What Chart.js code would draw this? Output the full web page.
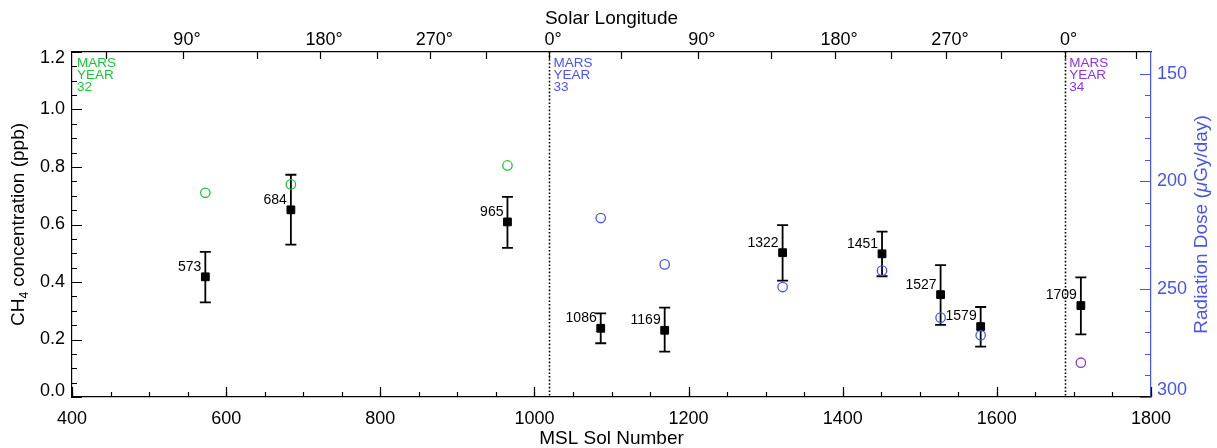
<!DOCTYPE html>
<html>
<head>
<meta charset="utf-8">
<script src="https://cdn.jsdelivr.net/npm/chart.js@4.4.0/dist/chart.umd.min.js"></script>
<style>
  html, body { margin: 0; padding: 0; background: #fff; }
  #wrap { width: 1217px; height: 448px; }
</style>
</head>
<body>
<div id="wrap"><canvas id="ch4Chart" width="1217" height="448"></canvas></div>
<script>
// methane measurements (left axis)
var sols = [573, 684, 965, 1086, 1169, 1322, 1451, 1527, 1579, 1709];
var ch4 = [0.418, 0.651, 0.609, 0.239, 0.232, 0.502, 0.498, 0.356, 0.245, 0.318];
var ch4Low = [0.329, 0.530, 0.519, 0.187, 0.158, 0.405, 0.420, 0.251, 0.175, 0.218];
var ch4High = [0.505, 0.773, 0.696, 0.291, 0.311, 0.598, 0.575, 0.459, 0.313, 0.416];

// radiation dose (right axis), one list per mars year
var doseSolsMY32 = [573, 684, 965];
var doseMY32 = [205.3, 201.4, 192.6];
var doseSolsMY33 = [1086, 1169, 1322, 1451, 1527, 1579];
var doseMY33 = [217.0, 238.5, 249.0, 241.4, 263.2, 271.4];
var doseSolsMY34 = [1709];
var doseMY34 = [284.1];

// solar longitude axis (sol where each Ls is reached)
var lsTickSols = [544, 722, 865, 1019, 1212, 1390, 1534, 1688];
var lsTickLabels = ['90°', '180°', '270°', '0°', '90°', '180°', '270°', '0°'];
var lsMinorSols = [444, 640, 796, 937, 1112, 1307, 1463, 1605, 1780];

var yearStartSols = [1019, 1688];
var yearLabelSols = [400, 1019, 1688];
var yearNames = ['32', '33', '34'];

var FONT = '"Liberation Sans", Arial, Helvetica, sans-serif';
var BLUE = '#4a55e4';
var GREEN = '#1fc23c';
var PURPLE = '#8b36d6';
var yearColors = [GREEN, BLUE, PURPLE];

function pts(xs, ys) {
    return xs.map(function(x, i) { return {x: x, y: ys[i]}; });
}

function stepValues(min, max, step) {
    var out = [];
    for (var v = Math.ceil(min / step - 1e-9) * step; v <= max + 1e-9; v += step) {
        out.push(+v.toFixed(6));
    }
    return out;
}

function drawTicks(ctx, scale, values, len, side, color) {
    var a = scale.chart.chartArea;
    ctx.save();
    ctx.strokeStyle = color;
    ctx.lineWidth = 1.2;
    ctx.beginPath();
    values.forEach(function(v) {
        var p = Math.round(scale.getPixelForValue(v)) + 0.5;
        if (side === 'bottom') { ctx.moveTo(p, a.bottom); ctx.lineTo(p, a.bottom - len); }
        if (side === 'top') { ctx.moveTo(p, a.top); ctx.lineTo(p, a.top + len); }
        if (side === 'left') { ctx.moveTo(a.left, p); ctx.lineTo(a.left + len, p); }
        if (side === 'right') { ctx.moveTo(a.right, p); ctx.lineTo(a.right - len, p); }
    });
    ctx.stroke();
    ctx.restore();
}

// keep the end labels inside the axis range, like the original plot does
function nudgeLabel(scale, value, dy) {
    var items = scale.getLabelItems(scale.chart.chartArea);
    scale.ticks.forEach(function(t, i) {
        if (Math.abs(t.value - value) < 1e-6 && items[i] && !items[i]._nudged) {
            items[i].options.translation[1] += dy;
            items[i]._nudged = true;
        }
    });
}

var edgeLabels = {
    id: 'edgeLabels',
    beforeDraw: function(chart) {
        nudgeLabel(chart.scales.y, 1.2, 6.5);
        nudgeLabel(chart.scales.y, 0, -6);
        nudgeLabel(chart.scales.y2, 300, -6.5);
    }
};

var decor = {
    id: 'decor',
    beforeDatasetsDraw: function(chart) {
        var ctx = chart.ctx, a = chart.chartArea;
        var xs = chart.scales.x, ys = chart.scales.y;
        // dotted lines at start of each mars year
        ctx.save();
        ctx.strokeStyle = '#000';
        ctx.lineWidth = 1.6;
        ctx.setLineDash([1.6, 2]);
        yearStartSols.forEach(function(s) {
            var px = Math.round(xs.getPixelForValue(s)) + 0.5;
            ctx.beginPath();
            ctx.moveTo(px, a.top);
            ctx.lineTo(px, a.bottom);
            ctx.stroke();
        });
        ctx.restore();
        // error bars
        ctx.save();
        ctx.strokeStyle = '#000';
        ctx.lineWidth = 1.8;
        sols.forEach(function(s, i) {
            var px = xs.getPixelForValue(s);
            var lo = ys.getPixelForValue(ch4Low[i]);
            var hi = ys.getPixelForValue(ch4High[i]);
            ctx.beginPath();
            ctx.moveTo(px, lo); ctx.lineTo(px, hi);
            ctx.moveTo(px - 5.5, lo); ctx.lineTo(px + 5.5, lo);
            ctx.moveTo(px - 5.5, hi); ctx.lineTo(px + 5.5, hi);
            ctx.stroke();
        });
        ctx.restore();
    },
    afterDraw: function(chart) {
        var ctx = chart.ctx, a = chart.chartArea;
        var xs = chart.scales.x, ys = chart.scales.y, y2 = chart.scales.y2, x2 = chart.scales.x2;

        // inward tick marks
        drawTicks(ctx, xs, stepValues(400, 1800, 200), 10, 'bottom', '#000');
        drawTicks(ctx, xs, stepValues(400, 1800, 50), 5, 'bottom', '#000');
        drawTicks(ctx, ys, stepValues(0, 1.2, 0.2), 10, 'left', '#000');
        drawTicks(ctx, ys, stepValues(0, 1.2, 0.05), 5, 'left', '#000');
        drawTicks(ctx, y2, stepValues(150, 300, 50), 11, 'right', BLUE);
        drawTicks(ctx, y2, stepValues(150, 300, 10), 6, 'right', BLUE);
        drawTicks(ctx, x2, lsTickSols.concat(lsMinorSols), 7, 'top', '#000');

        // sol labels next to each measurement
        ctx.save();
        ctx.font = '14px ' + FONT;
        ctx.fillStyle = '#000';
        ctx.textAlign = 'right';
        ctx.textBaseline = 'middle';
        sols.forEach(function(s, i) {
            ctx.fillText(String(s), xs.getPixelForValue(s) - 4, ys.getPixelForValue(ch4[i]) - 10);
        });
        ctx.restore();

        // MARS YEAR labels
        ctx.save();
        ctx.font = '13.5px ' + FONT;
        ctx.textAlign = 'left';
        ctx.textBaseline = 'alphabetic';
        yearLabelSols.forEach(function(s, i) {
            var px = xs.getPixelForValue(s) + (i === 0 ? 5 : 4.5);
            ctx.fillStyle = yearColors[i];
            ctx.fillText('MARS', px, a.top + 15.3);
            ctx.fillText('YEAR', px, a.top + 27);
            ctx.fillText(yearNames[i], px, a.top + 38.7);
        });
        ctx.restore();

        // axis titles
        var midX = (a.left + a.right) / 2;
        var midY = (a.top + a.bottom) / 2;
        ctx.save();
        ctx.fillStyle = '#000';
        ctx.font = '19px ' + FONT;
        ctx.textAlign = 'center';
        ctx.textBaseline = 'alphabetic';
        ctx.fillText('Solar Longitude', midX, 23.5);
        ctx.fillText('MSL Sol Number', midX, 444);
        ctx.restore();

        // left title with subscript
        ctx.save();
        ctx.translate(24, midY);
        ctx.rotate(-Math.PI / 2);
        ctx.fillStyle = '#000';
        ctx.textBaseline = 'alphabetic';
        ctx.textAlign = 'left';
        var big = '19px ' + FONT, small = '12px ' + FONT;
        ctx.font = big;
        var w1 = ctx.measureText('CH').width;
        var w3 = ctx.measureText(' concentration (ppb)').width;
        ctx.font = small;
        var w2 = ctx.measureText('4').width;
        var x0 = -(w1 + w2 + w3) / 2;
        ctx.font = big;
        ctx.fillText('CH', x0, 0);
        ctx.font = small;
        ctx.fillText('4', x0 + w1, 4);
        ctx.font = big;
        ctx.fillText(' concentration (ppb)', x0 + w1 + w2, 0);
        ctx.restore();

        // right title with italic mu
        ctx.save();
        ctx.translate(1207, midY);
        ctx.rotate(-Math.PI / 2);
        ctx.fillStyle = BLUE;
        ctx.textBaseline = 'alphabetic';
        ctx.textAlign = 'left';
        var ital = 'italic 19px ' + FONT;
        ctx.font = big;
        var r1 = ctx.measureText('Radiation Dose (').width;
        var r3 = ctx.measureText('Gy/day)').width;
        ctx.font = ital;
        var r2 = ctx.measureText('\u03bc').width;
        var rx = -(r1 + r2 + r3) / 2;
        ctx.font = big;
        ctx.fillText('Radiation Dose (', rx, 0);
        ctx.font = ital;
        ctx.fillText('\u03bc', rx + r1, 0);
        ctx.font = big;
        ctx.fillText('Gy/day)', rx + r1 + r2, 0);
        ctx.restore();
    }
};

function circleSet(label, xsArr, ysArr, color) {
    return {
        label: label,
        data: pts(xsArr, ysArr),
        xAxisID: 'x',
        yAxisID: 'y2',
        showLine: false,
        pointStyle: 'circle',
        pointRadius: 4.7,
        pointBorderWidth: 1.3,
        pointBackgroundColor: 'rgba(0,0,0,0)',
        pointBorderColor: color,
        order: 0
    };
}

var tickFont = {family: FONT, size: 18};

var config = {
    type: 'scatter',
    data: {
        datasets: [
            {
                label: 'CH4',
                data: pts(sols, ch4),
                xAxisID: 'x',
                yAxisID: 'y',
                showLine: false,
                pointStyle: 'rect',
                pointRadius: 5.5,
                pointBorderWidth: 1,
                pointBackgroundColor: '#000',
                pointBorderColor: '#000',
                order: 1
            },
            circleSet('Dose MY32', doseSolsMY32, doseMY32, GREEN),
            circleSet('Dose MY33', doseSolsMY33, doseMY33, BLUE),
            circleSet('Dose MY34', doseSolsMY34, doseMY34, PURPLE)
        ]
    },
    options: {
        responsive: false,
        animation: false,
        layout: { padding: 0 },
        plugins: {
            legend: { display: false },
            tooltip: { enabled: false }
        },
        scales: {
            x: {
                type: 'linear',
                position: 'bottom',
                min: 400,
                max: 1800,
                grid: { display: false, drawTicks: false },
                border: { display: true, color: '#000', width: 1.2 },
                ticks: {
                    stepSize: 200,
                    font: tickFont,
                    color: '#000',
                    padding: 11,
                    maxRotation: 0,
                    callback: function(v) { return String(v); }
                },
                afterFit: function(scale) { scale.height = 51; }
            },
            x2: {
                type: 'linear',
                position: 'top',
                min: 400,
                max: 1800,
                grid: { display: false, drawTicks: false },
                border: { display: true, color: '#000', width: 1.2 },
                afterBuildTicks: function(scale) {
                    scale.ticks = lsTickSols.map(function(v) { return {value: v}; });
                },
                ticks: {
                    autoSkip: false,
                    maxRotation: 0,
                    font: tickFont,
                    color: '#000',
                    padding: 1,
                    labelOffset: 4,
                    callback: function(value) {
                        var i = lsTickSols.indexOf(value);
                        return i >= 0 ? lsTickLabels[i] : '';
                    }
                },
                afterFit: function(scale) { scale.height = 52; }
            },
            y: {
                type: 'linear',
                position: 'left',
                min: 0,
                max: 1.2,
                grid: { display: false, drawTicks: false },
                border: { display: true, color: '#000', width: 1.2 },
                ticks: {
                    stepSize: 0.2,
                    font: tickFont,
                    color: '#000',
                    padding: 7,
                    callback: function(v) { return v.toFixed(1); }
                },
                afterFit: function(scale) { scale.width = 72; }
            },
            y2: {
                type: 'linear',
                position: 'right',
                min: 140,
                max: 300,
                reverse: true,
                grid: { display: false, drawTicks: false },
                border: { display: true, color: BLUE, width: 1.2 },
                afterBuildTicks: function(scale) {
                    scale.ticks = [150, 200, 250, 300].map(function(v) { return {value: v}; });
                },
                ticks: { font: tickFont, color: BLUE, padding: 6 },
                afterFit: function(scale) { scale.width = 66; }
            }
        }
    },
    plugins: [edgeLabels, decor]
};

var ctx = document.getElementById('ch4Chart').getContext('2d');
var ch4Chart = new Chart(ctx, config);
</script>
</body>
</html>
